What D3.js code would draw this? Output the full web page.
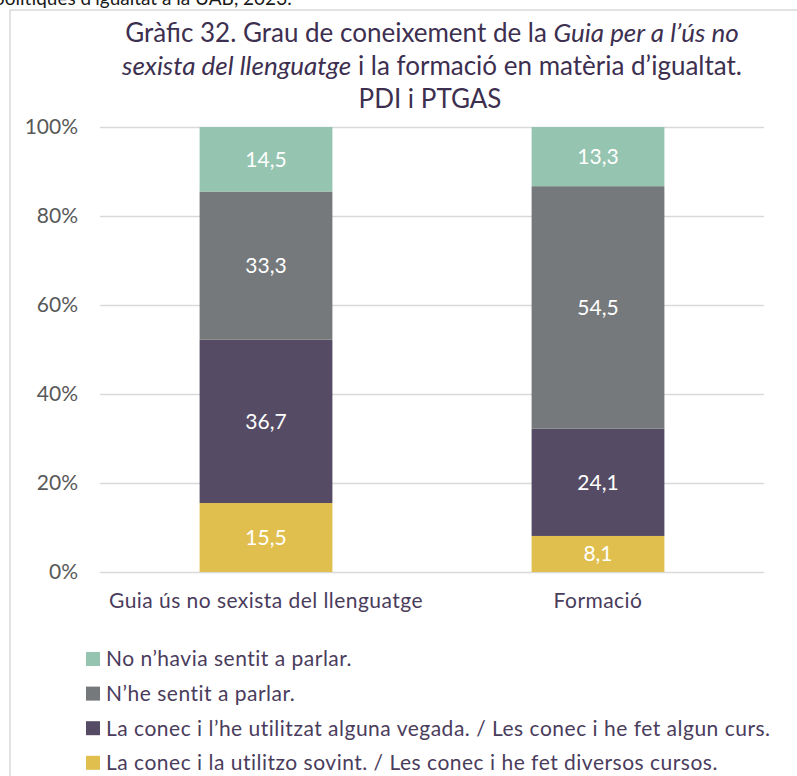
<!DOCTYPE html>
<html lang="ca">
<head>
<meta charset="utf-8">
<script src="https://cdn.jsdelivr.net/npm/d3@7"></script>
<style>
  html, body { margin: 0; padding: 0; background: #ffffff; }
  svg { display: block; font-family: Lato, "Open Sans", sans-serif; }
</style>
</head>
<body>
<svg id="chart" width="797" height="776"></svg>
<script>
// Categories (bars) and answer levels (stack segments, bottom to top)
const categories = ["Guia ús no sexista del llenguatge", "Formació"];
const levels = [
  "La conec i la utilitzo sovint. / Les conec i he fet diversos cursos.",
  "La conec i l’he utilitzat alguna vegada. / Les conec i he fet algun curs.",
  "N’he sentit a parlar.",
  "No n’havia sentit a parlar."
];
// Percentages per level, one value per category
const valuesOften   = [15.5, 8.1];
const valuesSome    = [36.7, 24.1];
const valuesHeard   = [33.3, 54.5];
const valuesNever   = [14.5, 13.3];
const levelColors = ["#e1bf4f", "#554b64", "#75797b", "#95c4b1"];
const yTicks = [0, 20, 40, 60, 80, 100];

const seriesValues = [valuesOften, valuesSome, valuesHeard, valuesNever];
const rows = categories.map((c, i) => {
  const r = { category: c };
  levels.forEach((l, k) => { r[l] = seriesValues[k][i]; });
  return r;
});

const svg = d3.select("#chart");

// Text of the surrounding page, cut by the top edge
svg.append("text")
  .attr("x", -6).attr("y", 5)
  .attr("font-size", 19).attr("fill", "#1a1a1a")
  .text("polítiques d’igualtat a la UAB, 2023.");

// Chart frame
svg.append("rect")
  .attr("x", 10).attr("y", 10)
  .attr("width", 820).attr("height", 800)
  .attr("fill", "none").attr("stroke", "#d9d9d9").attr("stroke-width", 1.5);

// Title
const title = svg.append("text")
  .attr("text-anchor", "middle")
  .attr("fill", "#3d2f4f")
  .attr("font-size", 26);
const t1 = title.append("tspan").attr("x", 432).attr("y", 42);
t1.append("tspan").text("Gràfic 32. Grau de coneixement de la ");
t1.append("tspan").attr("font-style", "italic").text("Guia per a l’ús no");
const t2 = title.append("tspan").attr("x", 432).attr("y", 75);
t2.append("tspan").attr("font-style", "italic").text("sexista del llenguatge");
t2.append("tspan").text(" i la formació en matèria d’igualtat.");
title.append("tspan").attr("x", 430).attr("y", 108).text("PDI i PTGAS");

// Scales
const y = d3.scaleLinear().domain([0, 100]).range([572, 127]);
const x = d3.scaleBand().domain(categories).range([100, 764]).padding(0);
const barW = x.bandwidth() * 0.4;

// Gridlines + y labels
const yAxis = d3.axisLeft(y).tickValues(yTicks)
  .tickSize(-(764 - 100)).tickPadding(22)
  .tickFormat(d => d + "%");
const gy = svg.append("g").attr("transform", "translate(100,0)").call(yAxis);
gy.select(".domain").remove();
gy.selectAll(".tick line").attr("stroke", "#d9d9d9").attr("stroke-width", 1.5);
gy.selectAll(".tick text")
  .attr("fill", "#595959").attr("font-size", 21)
  .attr("font-family", "Lato, sans-serif");

// Stacked bars
const stack = d3.stack().keys(levels);
const series = stack(rows);

const groups = svg.append("g").selectAll("g")
  .data(series).join("g")
  .attr("fill", (d, i) => levelColors[i]);

groups.selectAll("rect")
  .data(d => d.map(p => ({ p, key: d.key })))
  .join("rect")
  .attr("x", d => x(d.p.data.category) + (x.bandwidth() - barW) / 2)
  .attr("width", barW)
  .attr("y", d => y(d.p[1]))
  .attr("height", d => y(d.p[0]) - y(d.p[1]));

// Value labels
const fmt = v => d3.format(".1f")(v).replace(".", ",");
groups.selectAll("text")
  .data(d => d.map(p => ({ p, key: d.key })))
  .join("text")
  .attr("x", d => x(d.p.data.category) + x.bandwidth() / 2)
  .attr("y", d => (y(d.p[0]) + y(d.p[1])) / 2)
  .attr("dy", "0.35em")
  .attr("text-anchor", "middle")
  .attr("fill", "#ffffff")
  .attr("font-size", 21)
  .text(d => fmt(d.p.data[d.key]));

// Category labels
const xAxis = d3.axisBottom(x).tickSize(0).tickPadding(0);
const gx = svg.append("g").attr("transform", "translate(0,572)").call(xAxis);
gx.select(".domain").remove();
gx.selectAll(".tick text")
  .attr("y", 36).attr("dy", 0)
  .attr("fill", "#4a3c5c").attr("font-size", 21)
  .attr("letter-spacing", 0.45)
  .attr("font-family", "Lato, sans-serif");

// Legend (top to bottom: never, heard, some, often)
const legendOrder = [3, 2, 1, 0];
const legend = svg.append("g").selectAll("g")
  .data(legendOrder).join("g")
  .attr("transform", (k, i) => `translate(86,${659 + i * 34.6})`);
legend.append("rect")
  .attr("x", 0).attr("y", -7).attr("width", 14).attr("height", 14)
  .attr("fill", k => levelColors[k]);
legend.append("text")
  .attr("x", 20).attr("dy", "0.35em")
  .attr("fill", "#4a3c5c").attr("font-size", 21)
  .attr("letter-spacing", 0.5)
  .text(k => levels[k]);
</script>
</body>
</html>
